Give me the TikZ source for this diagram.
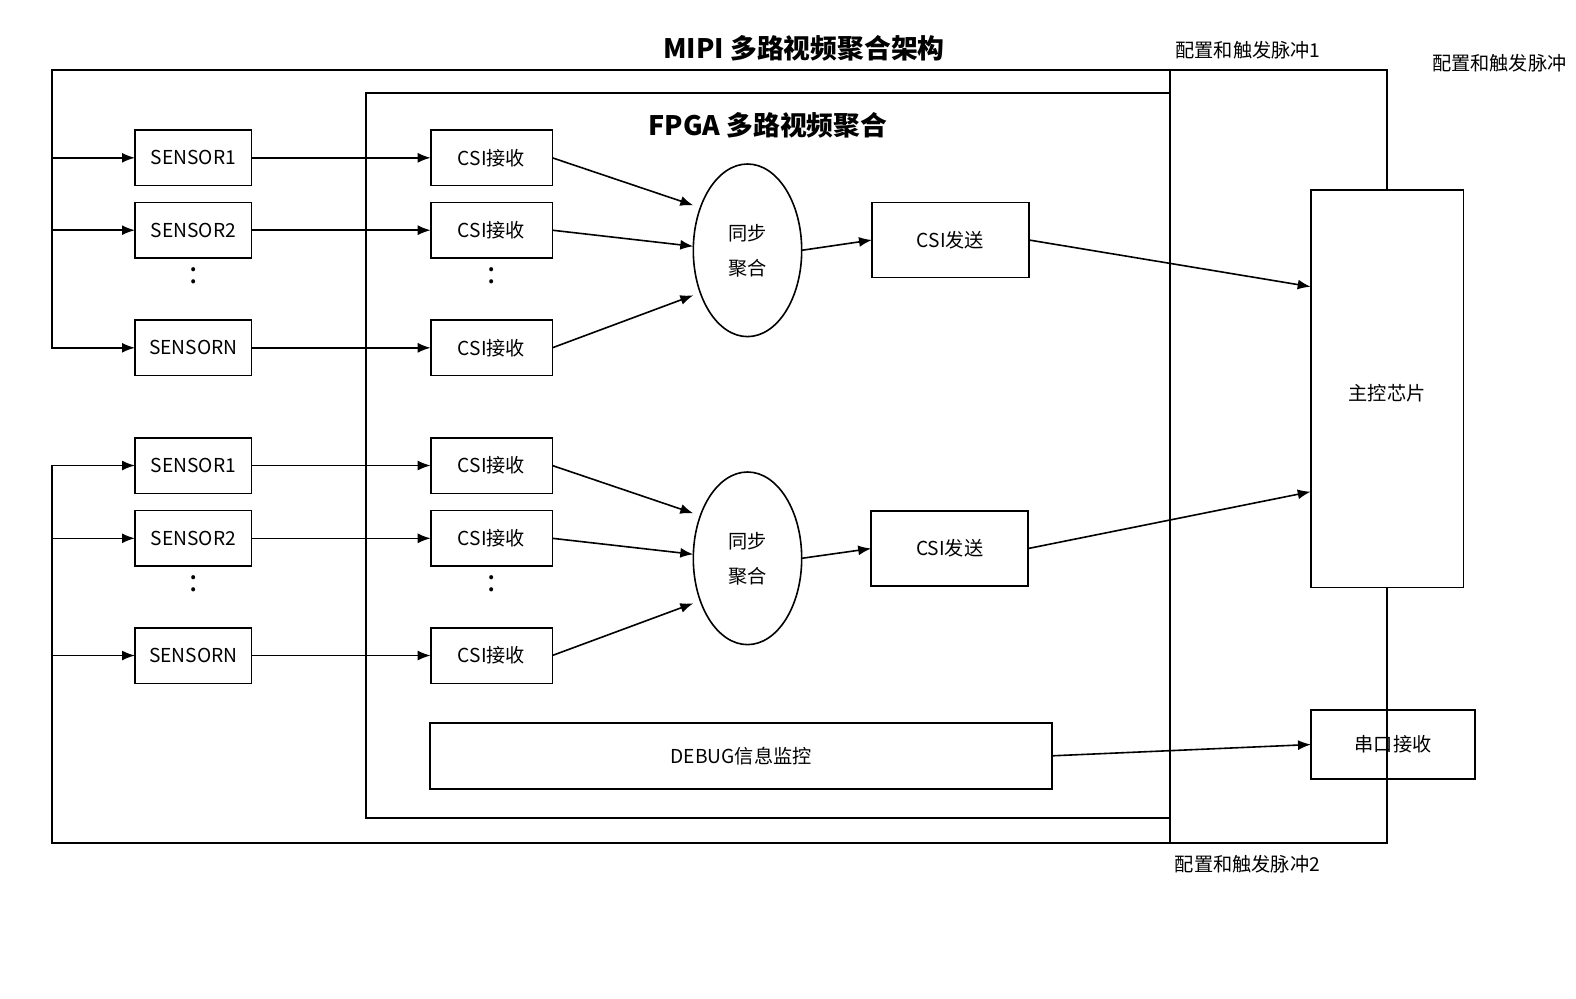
\documentclass[tikz,border=0pt]{standalone}
\usepackage{fontspec}
\setmainfont{Noto Sans CJK SC}
\usetikzlibrary{shapes.geometric,arrows.meta,calc}

\tikzset{
  blk/.style={draw, line width=0.8pt, inner sep=0pt, outer sep=0pt},
  sensbox/.style={blk, minimum width=58.3pt, minimum height=27.8pt},
  rxbox/.style={blk, minimum width=60.8pt, minimum height=27.8pt},
  txbox/.style={blk, minimum width=78.5pt, minimum height=37.5pt},
  syncnode/.style={blk, ellipse, minimum width=54.2pt, minimum height=86.3pt, align=center, font=\fontsize{9.6}{17.5}\selectfont},
  vdot/.style={font=\fontsize{15}{15}\selectfont},
  ttl/.style={font=\fontsize{13.4}{16}\selectfont\bfseries},
}

\begin{document}
\begin{tikzpicture}[x=0.5pt, y=-0.5pt, line width=0.8pt, >={Latex[length=6.5pt,width=5pt]},
    every node/.style={font=\fontsize{9.6}{11.5}\selectfont}]
    \useasboundingbox (0,0) rectangle (1576,998);

    \node[ttl] (title) at (804,48) {MIPI 多路视频聚合架构};
    \node[ttl] (fpgattl) at (768,125) {FPGA 多路视频聚合};

    % FPGA frame and the divider on its right
    \draw (365.7,92.7) rectangle (1170,818);
    \draw (1170,70) -- (1170,843);
    \coordinate (lft) at (51.7,0);

    % first group
    \node[sensbox] (s11) at (193.3,157.8) {SENSOR1};
    \node[sensbox] (s12) at (193.3,230.2) {SENSOR2};
    \node[vdot] (d1s) at (193.3,276) {:};
    \node[sensbox] (s1n) at (193.3,347.8) {SENSORN};
    \node[rxbox] (c11) at (491.5,157.8) {CSI接收};
    \node[rxbox] (c12) at (491.5,230.2) {CSI接收};
    \node[vdot] (d1c) at (491.5,276) {:};
    \node[rxbox] (c1n) at (491.5,347.8) {CSI接收};
    \node[syncnode] (sync1) at (747.5,250.3) {同步\\聚合};
    \node[txbox] (tx1) at (950.5,240) {CSI发送};

    % second group
    \node[sensbox] (s21) at (193.3,465.5) {SENSOR1};
    \node[sensbox] (s22) at (193.3,538.3) {SENSOR2};
    \node[vdot] (d2s) at (193.3,584) {:};
    \node[sensbox] (s2n) at (193.3,655.5) {SENSORN};
    \node[rxbox] (c21) at (491.5,465.5) {CSI接收};
    \node[rxbox] (c22) at (491.5,538.3) {CSI接收};
    \node[vdot] (d2c) at (491.5,584) {:};
    \node[rxbox] (c2n) at (491.5,655.5) {CSI接收};
    \node[syncnode] (sync2) at (747.5,558.3) {同步\\聚合};
    \node[txbox] (tx2) at (949.7,548.5) {CSI发送};

    \node[blk, minimum width=311pt, minimum height=33pt] (dbg) at (741.2,755.8) {DEBUG信息监控};
    \node[blk, minimum width=76.3pt, minimum height=198.6pt, text height=13pt, text depth=1pt] (mcu) at (1387,388.7) {主控芯片};
    \node[blk, minimum width=82pt, minimum height=34.5pt] (uart) at (1393,744.5) {串口接收};

    % config / trigger lines
    \draw[->] (mcu.north) |- (51.7,70) |- (s1n.west);
    \draw[->] (s11.west -| lft) -- (s11.west);
    \draw[->] (s12.west -| lft) -- (s12.west);
    \draw[->] (mcu.south) |- (51.7,843) |- (s21.west);
    \draw[->] (s22.west -| lft) -- (s22.west);
    \draw[->] (s2n.west -| lft) -- (s2n.west);

    \draw[->] (s11) -- (c11);
    \draw[->] (s12) -- (c12);
    \draw[->] (s1n) -- (c1n);
    \draw[->] (c11.east) -- ($(sync1.west)+(0,-45)$);
    \draw[->] (c12.east) -- ($(sync1.west)+(0,-4)$);
    \draw[->] (c1n.east) -- ($(sync1.west)+(0,45)$);
    \draw[->] (sync1.east) -- (tx1.west);
    \draw[->] (tx1.east) -- ($(mcu.west)+(0,-102)$);

    \draw[->] (s21) -- (c21);
    \draw[->] (s22) -- (c22);
    \draw[->] (s2n) -- (c2n);
    \draw[->] (c21.east) -- ($(sync2.west)+(0,-45)$);
    \draw[->] (c22.east) -- ($(sync2.west)+(0,-4)$);
    \draw[->] (c2n.east) -- ($(sync2.west)+(0,45)$);
    \draw[->] (sync2.east) -- (tx2.west);
    \draw[->] (tx2.east) -- ($(mcu.west)+(0,103)$);

    \draw[->] (dbg.east) -- (uart.west);

    \node (cfg1) at (1248,50) {配置和触发脉冲1};
    \node (cfg2) at (1247.5,864) {配置和触发脉冲2};
    \node[anchor=east] (cfg3) at (1574,63) {配置和触发脉冲};
\end{tikzpicture}
\end{document}
